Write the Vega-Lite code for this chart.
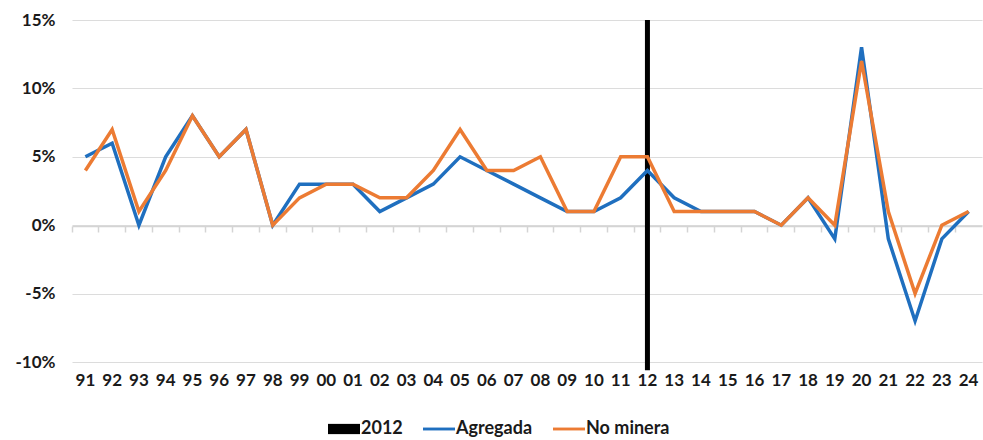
{
  "$schema": "https://vega.github.io/schema/vega-lite/v6.json",
  "width": 910,
  "height": 342,
  "autosize": "none",
  "padding": {"left": 72, "top": 20, "right": 1, "bottom": 78},
  "background": "white",
  "config": {
    "view": {"stroke": null},
    "font": "Lato",
    "axis": {"labelFont": "Lato", "labelFontWeight": "bold", "labelFontSize": 17, "labelColor": "#1a1a1a"}
  },
  "datasets": {
    "series": [
      {"year": "91", "serie": "Agregada", "value": 5}, {"year": "92", "serie": "Agregada", "value": 6},
      {"year": "93", "serie": "Agregada", "value": 0}, {"year": "94", "serie": "Agregada", "value": 5},
      {"year": "95", "serie": "Agregada", "value": 8}, {"year": "96", "serie": "Agregada", "value": 5},
      {"year": "97", "serie": "Agregada", "value": 7}, {"year": "98", "serie": "Agregada", "value": 0},
      {"year": "99", "serie": "Agregada", "value": 3}, {"year": "00", "serie": "Agregada", "value": 3},
      {"year": "01", "serie": "Agregada", "value": 3}, {"year": "02", "serie": "Agregada", "value": 1},
      {"year": "03", "serie": "Agregada", "value": 2}, {"year": "04", "serie": "Agregada", "value": 3},
      {"year": "05", "serie": "Agregada", "value": 5}, {"year": "06", "serie": "Agregada", "value": 4},
      {"year": "07", "serie": "Agregada", "value": 3}, {"year": "08", "serie": "Agregada", "value": 2},
      {"year": "09", "serie": "Agregada", "value": 1}, {"year": "10", "serie": "Agregada", "value": 1},
      {"year": "11", "serie": "Agregada", "value": 2}, {"year": "12", "serie": "Agregada", "value": 4},
      {"year": "13", "serie": "Agregada", "value": 2}, {"year": "14", "serie": "Agregada", "value": 1},
      {"year": "15", "serie": "Agregada", "value": 1}, {"year": "16", "serie": "Agregada", "value": 1},
      {"year": "17", "serie": "Agregada", "value": 0}, {"year": "18", "serie": "Agregada", "value": 2},
      {"year": "19", "serie": "Agregada", "value": -1}, {"year": "20", "serie": "Agregada", "value": 13},
      {"year": "21", "serie": "Agregada", "value": -1}, {"year": "22", "serie": "Agregada", "value": -7},
      {"year": "23", "serie": "Agregada", "value": -1}, {"year": "24", "serie": "Agregada", "value": 1},
      {"year": "91", "serie": "No minera", "value": 4}, {"year": "92", "serie": "No minera", "value": 7},
      {"year": "93", "serie": "No minera", "value": 1}, {"year": "94", "serie": "No minera", "value": 4},
      {"year": "95", "serie": "No minera", "value": 8}, {"year": "96", "serie": "No minera", "value": 5},
      {"year": "97", "serie": "No minera", "value": 7}, {"year": "98", "serie": "No minera", "value": 0},
      {"year": "99", "serie": "No minera", "value": 2}, {"year": "00", "serie": "No minera", "value": 3},
      {"year": "01", "serie": "No minera", "value": 3}, {"year": "02", "serie": "No minera", "value": 2},
      {"year": "03", "serie": "No minera", "value": 2}, {"year": "04", "serie": "No minera", "value": 4},
      {"year": "05", "serie": "No minera", "value": 7}, {"year": "06", "serie": "No minera", "value": 4},
      {"year": "07", "serie": "No minera", "value": 4}, {"year": "08", "serie": "No minera", "value": 5},
      {"year": "09", "serie": "No minera", "value": 1}, {"year": "10", "serie": "No minera", "value": 1},
      {"year": "11", "serie": "No minera", "value": 5}, {"year": "12", "serie": "No minera", "value": 5},
      {"year": "13", "serie": "No minera", "value": 1}, {"year": "14", "serie": "No minera", "value": 1},
      {"year": "15", "serie": "No minera", "value": 1}, {"year": "16", "serie": "No minera", "value": 1},
      {"year": "17", "serie": "No minera", "value": 0}, {"year": "18", "serie": "No minera", "value": 2},
      {"year": "19", "serie": "No minera", "value": 0}, {"year": "20", "serie": "No minera", "value": 12},
      {"year": "21", "serie": "No minera", "value": 1}, {"year": "22", "serie": "No minera", "value": -5},
      {"year": "23", "serie": "No minera", "value": 0}, {"year": "24", "serie": "No minera", "value": 1}
    ],
    "marker": [{"year": "12", "serie": "2012", "top": 15, "bottom": -10.6}]
  },
  "resolve": {"axis": {"x": "independent"}},
  "layer": [
    {
      "data": {"name": "marker"},
      "mark": {"type": "rule", "strokeWidth": 5, "strokeCap": "butt"},
      "encoding": {
        "x": {
          "field": "year", "type": "ordinal",
          "scale": {"type": "band", "paddingInner": 0, "paddingOuter": 0,
            "domain": ["91","92","93","94","95","96","97","98","99","00","01","02","03","04","05","06","07","08","09","10","11","12","13","14","15","16","17","18","19","20","21","22","23","24"]},
          "axis": {"orient": "bottom", "offset": -136, "labels": false, "domain": true, "domainColor": "#d4d4d4", "domainWidth": 1.5,
            "ticks": true, "tickColor": "#d4d4d4", "tickWidth": 1.5, "tickSize": 6, "bandPosition": 0, "grid": false, "title": null}
        },
        "y": {"field": "top", "type": "quantitative"},
        "y2": {"field": "bottom"},
        "color": {"field": "serie", "type": "nominal"}
      }
    },
    {
      "data": {"name": "series"},
      "mark": {"type": "line", "strokeWidth": 3.5, "strokeJoin": "miter"},
      "encoding": {
        "x": {
          "field": "year", "type": "ordinal",
          "axis": {"orient": "bottom", "ticks": false, "domain": false, "labelPadding": 10, "labelAngle": 0, "grid": false, "title": null}
        },
        "y": {
          "field": "value", "type": "quantitative",
          "scale": {"domain": [-10, 15], "nice": false, "zero": false},
          "axis": {"values": [-10, -5, 0, 5, 10, 15], "labelExpr": "datum.value + '%'", "domain": false, "ticks": false,
            "grid": true, "gridColor": "#dcdcdc", "gridWidth": 1.2, "labelPadding": 17, "title": null}
        },
        "color": {
          "field": "serie", "type": "nominal",
          "scale": {"domain": ["2012", "Agregada", "No minera"], "range": ["#000000", "#1f6fbf", "#ec7b33"]},
          "legend": {
            "orient": "none", "legendX": 256, "legendY": 393, "direction": "horizontal", "title": null,
            "labelFont": "Lato", "labelFontSize": 18, "labelFontWeight": "bold", "labelColor": "#1a1a1a",
            "symbolSize": 1024, "labelOffset": 1, "columnPadding": 20,
            "encode": {
              "symbols": {
                "update": {
                  "shape": {"signal": "datum.value === '2012' ? 'M-1,-0.32H1V0.32H-1Z' : 'M-1,-0.09H1V0.09H-1Z'"},
                  "fill": {"scale": "color", "field": "value"},
                  "stroke": {"value": "transparent"},
                  "strokeWidth": {"value": 0},
                  "opacity": {"value": 1}
                }
              }
            }
          }
        }
      }
    }
  ]
}
